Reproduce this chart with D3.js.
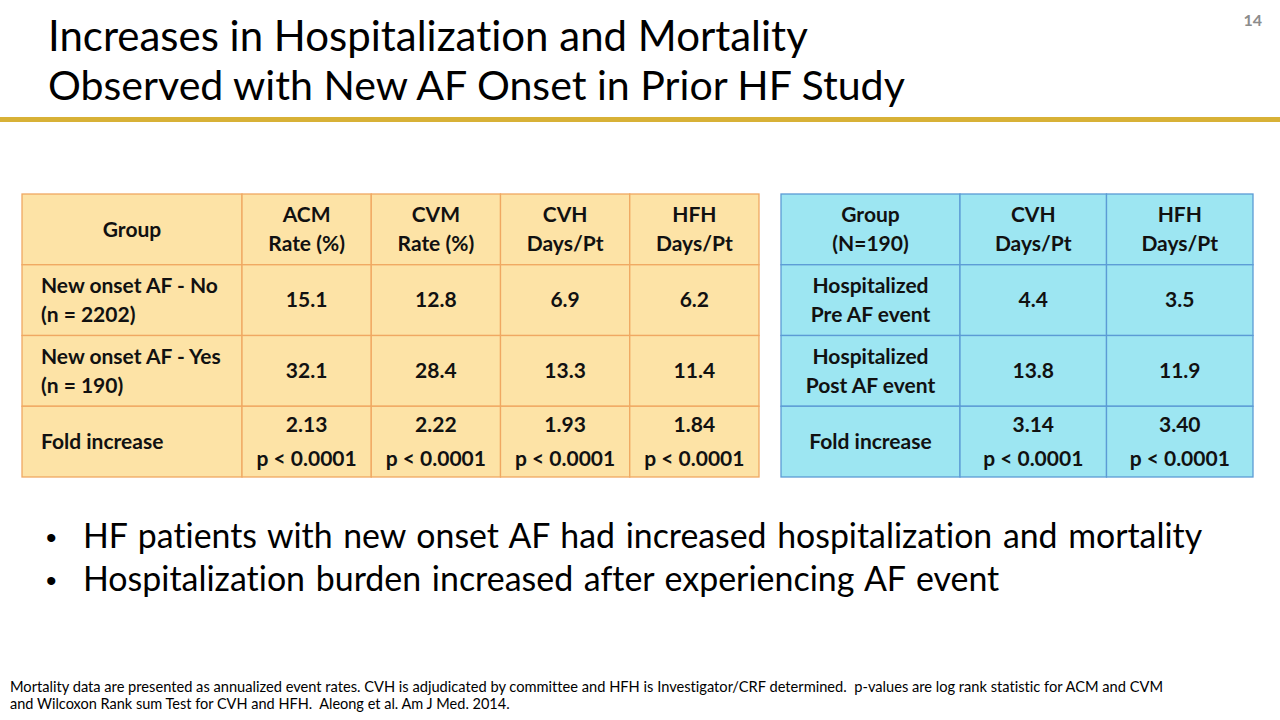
<!DOCTYPE html>
<html>
<head>
<meta charset="utf-8">
<script src="https://cdn.jsdelivr.net/npm/d3@7"></script>
<style>
  html, body { margin: 0; padding: 0; background: #ffffff; }
  svg { display: block; }
  text { font-variant-ligatures: none; }
</style>
</head>
<body>
<svg id="slide" width="1280" height="720"></svg>
<script>
// ---------------- DATA ----------------
const titleLines = ["Increases in Hospitalization and Mortality", "Observed with New AF Onset in Prior HF Study"];
const pageNumber = "14";

const t1Header = [["Group"], ["ACM", "Rate (%)"], ["CVM", "Rate (%)"], ["CVH", "Days/Pt"], ["HFH", "Days/Pt"]];
const t1RowLabels = [["New onset AF - No", "(n = 2202)"], ["New onset AF - Yes", "(n = 190)"], ["Fold increase"]];
const t1NoAF = [15.1, 12.8, 6.9, 6.2];
const t1YesAF = [32.1, 28.4, 13.3, 11.4];
const t1Fold = [2.13, 2.22, 1.93, 1.84];
const t1PValues = ["p < 0.0001", "p < 0.0001", "p < 0.0001", "p < 0.0001"];

const t2Header = [["Group", "(N=190)"], ["CVH", "Days/Pt"], ["HFH", "Days/Pt"]];
const t2RowLabels = [["Hospitalized", "Pre AF event"], ["Hospitalized", "Post AF event"], ["Fold increase"]];
const t2PreAF = [4.4, 3.5];
const t2PostAF = [13.8, 11.9];
const t2Fold = [3.14, 3.40];
const t2PValues = ["p < 0.0001", "p < 0.0001"];

const bullets = [
  "HF patients with new onset AF had increased hospitalization and mortality",
  "Hospitalization burden increased after experiencing AF event"
];
const footnoteLines = [
  "Mortality data are presented as annualized event rates. CVH is adjudicated by committee and HFH is Investigator/CRF determined.  p-values are log rank statistic for ACM and CVM",
  "and Wilcoxon Rank sum Test for CVH and HFH.  Aleong et al. Am J Med. 2014."
];

// ---------------- LAYOUT ----------------
const FONT = "Lato, 'Noto Sans', sans-serif";
const svg = d3.select("#slide");
const f1 = d3.format(".1f"), f2 = d3.format(".2f");

function fitWidth(sel, target) {
  const node = sel.node();
  const fs = parseFloat(sel.attr("font-size"));
  const w = node.getComputedTextLength();
  if (w > 0) sel.attr("font-size", (fs * target / w).toFixed(2));
}

// Title
const titleTargets = [760, 857];
const titleBase = [51, 100];
titleLines.forEach((t, i) => {
  const s = svg.append("text").attr("x", 48).attr("y", titleBase[i])
    .attr("font-family", FONT).attr("font-size", 40).attr("fill", "#000").text(t);
  fitWidth(s, titleTargets[i]);
});

svg.append("rect").attr("x", 0).attr("y", 117).attr("width", 1280).attr("height", 5).attr("fill", "#D8B136");

svg.append("text").attr("x", 1262).attr("y", 26).attr("text-anchor", "end")
  .attr("font-family", FONT).attr("font-weight", "bold").attr("font-size", 16)
  .attr("fill", "#8c8c8c").text(pageNumber);

// ---------------- TABLES ----------------
const rowKeys = ["header", "r0", "r1", "r2"];
const yRow = d3.scaleBand().domain(rowKeys).range([194, 477]).paddingInner(0);
const CELL_FS = 21;
const LINE_H = 29;
const FOLD_LINE_H = 34;

function drawTable(opts) {
  const g = svg.append("g");
  const cols = opts.cols;
  rowKeys.forEach(rk => {
    cols.forEach(c => {
      g.append("rect").attr("x", c.x0).attr("y", yRow(rk))
        .attr("width", c.x1 - c.x0).attr("height", yRow.bandwidth())
        .attr("fill", opts.fill).attr("stroke", opts.stroke).attr("stroke-width", 1.3);
    });
  });
  function multiline(lines, cx, cy, anchor, x, lh) {
    const n = lines.length;
    lh = lh || LINE_H;
    lines.forEach((ln, i) => {
      g.append("text")
        .attr("x", anchor === "start" ? x : cx)
        .attr("y", cy + (i - (n - 1) / 2) * lh)
        .attr("dy", "0.35em")
        .attr("text-anchor", anchor)
        .attr("font-family", FONT).attr("font-weight", "bold")
        .attr("font-size", CELL_FS).attr("fill", "#111").text(ln);
    });
  }
  const cy = rk => yRow(rk) + yRow.bandwidth() / 2;
  opts.header.forEach((h, j) => multiline(h, (cols[j].x0 + cols[j].x1) / 2, cy("header"), "middle"));
  opts.rowLabels.forEach((lab, i) => {
    const rk = rowKeys[i + 1];
    multiline(lab, (cols[0].x0 + cols[0].x1) / 2, cy(rk), opts.labelAnchor, cols[0].x0 + 19);
  });
  opts.rows.forEach((vals, i) => {
    const rk = rowKeys[i + 1];
    vals.forEach((v, j) => {
      const c = cols[j + 1];
      multiline([f1(v)], (c.x0 + c.x1) / 2, cy(rk), "middle");
    });
  });
  opts.fold.forEach((v, j) => {
    const c = cols[j + 1];
    multiline([f2(v), opts.p[j]], (c.x0 + c.x1) / 2, cy("r2"), "middle", null, FOLD_LINE_H);
  });
}

function makeCols(x0, firstW, x1, nVals) {
  const xb = d3.scaleBand().domain(d3.range(nVals)).range([x0 + firstW, x1]);
  const cols = [{ x0: x0, x1: x0 + firstW }];
  d3.range(nVals).forEach(k => cols.push({ x0: xb(k), x1: xb(k) + xb.bandwidth() }));
  return cols;
}

drawTable({
  cols: makeCols(22, 220, 759, t1NoAF.length),
  fill: "#FDE3A6", stroke: "#F0A862",
  header: t1Header, rowLabels: t1RowLabels, labelAnchor: "start",
  rows: [t1NoAF, t1YesAF], fold: t1Fold, p: t1PValues
});

drawTable({
  cols: makeCols(781, 179, 1253, t2PreAF.length),
  fill: "#9DE6F2", stroke: "#5B9BD5",
  header: t2Header, rowLabels: t2RowLabels, labelAnchor: "middle",
  rows: [t2PreAF, t2PostAF], fold: t2Fold, p: t2PValues
});

// ---------------- BULLETS ----------------
const bulletTargets = [1122, 918];
const bulletBase = [548, 591];
bullets.forEach((b, i) => {
  svg.append("text").attr("x", 46).attr("y", bulletBase[i])
    .attr("font-family", "Arial, 'Liberation Sans', sans-serif").attr("font-size", 30).attr("fill", "#000").text("•");
  const s = svg.append("text").attr("x", 83).attr("y", bulletBase[i])
    .attr("font-family", FONT).attr("font-size", 30).attr("fill", "#000")
    .attr("word-spacing", 2).text(b);
  fitWidth(s, bulletTargets[i]);
});

// ---------------- FOOTNOTE ----------------
const footTargets = [1154, 500];
const footBase = [692, 709];
footnoteLines.forEach((t, i) => {
  const s = svg.append("text").attr("x", 10).attr("y", footBase[i])
    .attr("font-family", FONT).attr("font-size", 13.5).attr("fill", "#000")
    .style("white-space", "pre").text(t);
  fitWidth(s, footTargets[i]);
});
</script>
</body>
</html>
